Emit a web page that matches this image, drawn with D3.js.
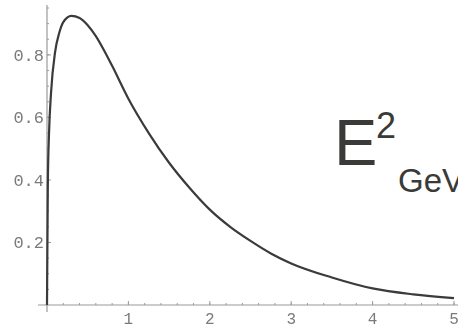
<!DOCTYPE html>
<html>
<head>
<meta charset="utf-8">
<script src="https://cdn.jsdelivr.net/npm/d3@7"></script>
<style>
  html, body { margin: 0; padding: 0; background: #fff; }
  svg { display: block; }
</style>
</head>
<body>
<svg id="chart" width="458" height="329"></svg>
<script>
// Spectrum curve samples (energy, intensity)
const energy = [0, 0.01, 0.025, 0.05, 0.1, 0.15, 0.2, 0.3, 0.4, 0.5, 0.6, 0.7, 0.8,
                1.0, 1.25, 1.5, 1.75, 2.0, 2.25, 2.5, 2.75, 3.0, 3.5, 4.0, 4.5, 5.0];
const intensity = [0, 0.38, 0.55, 0.68, 0.81, 0.87, 0.905, 0.925, 0.918, 0.895, 0.86, 0.815, 0.765,
                   0.66, 0.55, 0.455, 0.375, 0.305, 0.25, 0.205, 0.165, 0.133, 0.088, 0.053, 0.034, 0.022];
const xTicks = [1, 2, 3, 4, 5];
const yTicks = [0.2, 0.4, 0.6, 0.8];
const xTickLabels = ["1", "2", "3", "4", "5"];
const yTickLabels = ["0.2", "0.4", "0.6", "0.8"];

const svg = d3.select("#chart");

const x = d3.scaleLinear().domain([0, 5]).range([47, 454]);
const y = d3.scaleLinear().domain([0, 0.95]).range([305, 8]);

svg.append("defs").append("filter").attr("id", "soft")
  .append("feGaussianBlur").attr("stdDeviation", 0.45);
const plot = svg.append("g").attr("filter", "url(#soft)");

const axisColor = "#9a9a9a";
const labelFont = "'Liberation Mono', 'DejaVu Sans Mono', monospace";

// x axis line
plot.append("line")
  .attr("x1", 38).attr("x2", 458)
  .attr("y1", y(0)).attr("y2", y(0))
  .attr("stroke", axisColor).attr("stroke-width", 1.2);

// y axis line
plot.append("line")
  .attr("x1", x(0)).attr("x2", x(0))
  .attr("y1", 5).attr("y2", 312)
  .attr("stroke", axisColor).attr("stroke-width", 1.2);

// minor / major ticks on x
const xMinor = d3.range(0.2, 5.01, 0.2);
plot.selectAll(".xminor").data(xMinor).join("line")
  .attr("x1", d => x(d)).attr("x2", d => x(d))
  .attr("y1", y(0)).attr("y2", y(0) - 2)
  .attr("stroke", axisColor).attr("stroke-width", 1);
plot.selectAll(".xmajor").data(xTicks).join("line")
  .attr("x1", d => x(d)).attr("x2", d => x(d))
  .attr("y1", y(0)).attr("y2", y(0) - 4)
  .attr("stroke", axisColor).attr("stroke-width", 1);

// minor / major ticks on y
const yMinor = d3.range(0.05, 0.951, 0.05);
plot.selectAll(".yminor").data(yMinor).join("line")
  .attr("x1", x(0)).attr("x2", x(0) + 2)
  .attr("y1", d => y(d)).attr("y2", d => y(d))
  .attr("stroke", axisColor).attr("stroke-width", 1);
plot.selectAll(".ymajor").data(yTicks).join("line")
  .attr("x1", x(0)).attr("x2", x(0) + 4)
  .attr("y1", d => y(d)).attr("y2", d => y(d))
  .attr("stroke", axisColor).attr("stroke-width", 1);

// tick labels
plot.selectAll(".xlab").data(xTicks).join("text")
  .attr("x", d => x(d)).attr("y", 324)
  .attr("text-anchor", "middle")
  .attr("font-family", labelFont).attr("font-size", 16)
  .attr("fill", "#7a7a7a")
  .text((d, i) => xTickLabels[i]);

plot.selectAll(".ylab").data(yTicks).join("text")
  .attr("x", 44).attr("y", d => y(d) + 6)
  .attr("text-anchor", "end")
  .attr("font-family", labelFont).attr("font-size", 17)
  .attr("fill", "#7a7a7a")
  .text((d, i) => yTickLabels[i]);

// the curve
const pts = energy.map((e, i) => [e, intensity[i]]);
const line = d3.line()
  .x(d => x(d[0])).y(d => y(d[1]))
  .curve(d3.curveMonotoneX);
plot.append("path")
  .attr("d", line(pts))
  .attr("fill", "none")
  .attr("stroke", "#3a3a3a")
  .attr("stroke-width", 2.2)
  .attr("stroke-linejoin", "round");

// unit label
const sans = "'Liberation Sans', Arial, Helvetica, sans-serif";
const unit = svg.append("g").attr("fill", "#3a3a38").attr("font-family", sans);
unit.append("text").attr("x", 334).attr("y", 165).attr("font-size", 65).text("E");
unit.append("text").attr("x", 376).attr("y", 138).attr("font-size", 36).text("2");
unit.append("text").attr("x", 398).attr("y", 192).attr("font-size", 33).text("GeV");
</script>
</body>
</html>
